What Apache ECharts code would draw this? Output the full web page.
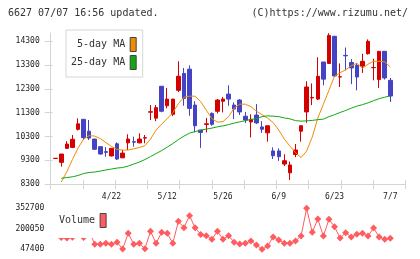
<!DOCTYPE html>
<html>
<head>
<meta charset="utf-8">
<script src="https://cdn.jsdelivr.net/npm/echarts@6/dist/echarts.min.js"></script>
<style>
html,body{margin:0;padding:0;background:#fff}
#chart{width:420px;height:259px}
</style>
</head>
<body>
<div id="chart"></div>
<script>
// daily candles, 5/25-day MA, volume
var dates = ['4/8','4/9','4/10','4/11','4/14','4/15','4/16','4/17','4/18','4/21',
  '4/22','4/23','4/24','4/25','4/28','4/30','5/1','5/2','5/7','5/8',
  '5/12','5/13','5/14','5/15','5/16','5/19','5/20','5/21','5/22','5/23',
  '5/26','5/27','5/28','5/29','5/30','6/2','6/3','6/4','6/5','6/6',
  '6/9','6/10','6/11','6/12','6/13','6/16','6/17','6/18','6/19','6/20',
  '6/23','6/24','6/25','6/26','6/27','6/30','7/1','7/2','7/3','7/4','7/7'];
var opens = [9375,9210,9800,9840,10600,11020,10520,10190,9870,9660,
  9480,9990,9400,10030,10080,10030,10230,11320,11070,12410,
  11590,11230,12240,12950,13130,11620,10570,10800,11270,11360,
  11780,12080,11620,11830,11150,10910,11200,10700,10450,9690,
  9690,9140,8770,9540,10520,11330,11920,11870,13430,13370,
  14510,12800,13710,13410,13290,13260,13780,13190,12690,13880,12660];
var closes = [9380,9560,9980,10180,10830,10250,10230,9760,9560,9630,
  9800,9350,9600,10190,10060,10190,10250,11340,11510,11360,
  11870,11870,12830,11900,11480,10750,10470,10830,10810,11830,
  11870,11870,11450,11330,10990,11020,10870,10600,10750,9490,
  9450,9280,9100,9730,10750,12380,11940,12830,12710,14550,
  12840,12810,13690,13180,12800,13460,14300,13200,13880,12760,12000];
var lows = [9370,9030,9770,9810,10550,10150,10150,9730,9540,9450,
  9460,9310,9390,9730,9870,10010,10010,10990,10940,11320,
  11480,11150,12170,11590,11170,10470,9820,10470,10750,11270,
  11310,11590,11030,11200,10860,10260,10820,10450,10080,9350,
  9270,9060,8470,9430,10080,10870,11620,11830,12450,13350,
  12840,12380,13080,12500,12240,12970,13740,12660,12340,12690,11750];
var highs = [9385,9560,10100,10360,11060,11030,10990,10200,9880,9850,
  9810,10050,9730,10390,10290,10430,10360,11620,11620,12410,
  12340,11870,13460,13180,13290,11780,10570,11080,11310,11870,
  11960,12450,11730,11870,11330,11230,11660,10940,10750,9840,
  9800,9550,9240,9980,10750,12620,12530,13630,13430,14640,
  14530,13370,14040,13550,13390,13780,14380,13570,13880,13880,12760];
var ma5 = [null,8384,8816,9328,9811,10188,10335,10314,10209,10041,
  9882,9756,9727,9727,9781,9832,9915,10188,10566,10818,
  11048,11300,11678,11951,11993,11993,11762,11405,11048,10902,
  10923,11132,11489,11657,11657,11552,11363,11216,11069,10881,
  10566,10188,9894,9622,9412,9685,10272,11069,11657,12244,
  12832,12979,13104,13272,13377,13167,13335,13461,13461,13440,13222];
var ma25 = [null,8539,8573,8602,8657,8741,8783,8804,8845,8887,
  8929,8971,8992,9055,9139,9223,9328,9454,9580,9706,
  9853,9999,10167,10314,10440,10503,10566,10608,10650,10704,
  10746,10797,10860,10914,10964,11015,11048,11132,11166,11153,
  11132,11078,11040,10964,10943,10955,10973,11006,11027,11132,
  11216,11309,11392,11489,11573,11636,11711,11804,11888,11951,12005];
var volumes = [160000,135000,132000,138000,175000,135000,185000,84600,84600,92100,
  84600,99500,49600,166500,84600,92100,51900,181400,92100,174000,
  166500,92100,255900,208200,297600,208200,157600,148700,121900,181400,
  121900,148700,99500,86900,92100,109200,79400,47400,72000,139000,
  116600,92100,92100,109200,146400,352700,174000,273000,146400,270800,
  215700,131500,171000,139000,159100,166500,146400,206000,139000,121900,129300];

var dateLabels = ['4/22','5/12','5/26','6/9','6/23','7/7'];
var priceTicks = [8300,9300,10300,11300,12300,13300,14300];
var volumeTicks = [47400,200050,352700];

var mono = 'DejaVu Sans Mono';
var upColor = '#d40000', downColor = '#4343c4';
var axisGray = '#d4d4d4';
var plain = function (v) { return String(v); };

var candles = [];
for (var i = 0; i < dates.length; i++) {
  candles.push([opens[i], closes[i], lows[i], highs[i]]);
}

var myChart = echarts.init(document.getElementById('chart'));

option = {
  animation: false,
  backgroundColor: '#fff',
  title: [
    {text: '6627 07/07 16:56 updated.', left: 8, top: 8, padding: 0,
     textStyle: {fontFamily: mono, fontSize: 10, fontWeight: 'normal', color: '#333'}},
    {text: '(C)https://www.rizumu.net/', right: 12, top: 8, padding: 0,
     textStyle: {fontFamily: mono, fontSize: 10, fontWeight: 'normal', color: '#333'}}
  ],
  legend: [
    {
      data: ['5-day MA', '25-day MA'],
      orient: 'vertical', align: 'right',
      left: 66, top: 30,
      padding: [7, 6, 7, 5],
      itemWidth: 6, itemHeight: 14, itemGap: 3,
      icon: 'rect',
      itemStyle: {borderColor: '#444', borderWidth: 1},
      backgroundColor: '#fff', borderColor: '#d6d6d6', borderWidth: 1,
      textStyle: {fontFamily: mono, fontSize: 10, color: '#333'},
      selectedMode: false
    },
    {
      data: ['Volume'],
      orient: 'vertical', align: 'right',
      left: 51, top: 207,
      padding: [6, 5, 10, 8],
      itemWidth: 6, itemHeight: 14,
      icon: 'rect',
      itemStyle: {borderColor: '#444', borderWidth: 1},
      backgroundColor: '#fff',
      textStyle: {fontFamily: mono, fontSize: 10, color: '#333'},
      selectedMode: false
    }
  ],
  grid: [
    {left: 50.7, right: 14.7, top: 33, bottom: 75},
    {left: 55.7, right: 29.7, top: 33, bottom: 75},
    {left: 55.7, right: 29.7, top: 208.3, bottom: 9.7}
  ],
  xAxis: [
    {gridIndex: 0, type: 'value', min: 0, max: 11, interval: 1, position: 'bottom',
     axisLine: {show: true, lineStyle: {color: axisGray, width: 1}},
     axisTick: {show: true, length: 5, lineStyle: {color: axisGray}},
     axisLabel: {show: false}, splitLine: {show: false}},
    {gridIndex: 1, type: 'category', data: dates, boundaryGap: false,
     axisLine: {show: false}, axisTick: {show: false}, splitLine: {show: false},
     axisLabel: {
       interval: function (idx, value) { return dateLabels.indexOf(value) >= 0; },
       margin: 9, fontFamily: mono, fontSize: 8, color: '#222'
     }},
    {gridIndex: 2, type: 'category', data: dates, boundaryGap: false, show: false},
    {gridIndex: 0, type: 'value', min: 0, max: 11, interval: 1, position: 'bottom',
     axisLine: {show: false},
     axisTick: {show: true, inside: true, length: 4, lineStyle: {color: axisGray}},
     axisLabel: {show: false}, splitLine: {show: false}}
  ],
  yAxis: [
    {gridIndex: 0, type: 'value', min: 8300, max: 14650, position: 'left',
     axisLine: {show: true, lineStyle: {color: axisGray, width: 1}},
     axisTick: {show: true, length: 6, customValues: priceTicks, lineStyle: {color: axisGray}},
     axisLabel: {customValues: priceTicks, formatter: plain, margin: 11, fontFamily: mono, fontSize: 8, color: '#222'},
     splitLine: {show: false}},
    {gridIndex: 1, type: 'value', min: 8300, max: 14650, show: false, splitLine: {show: false}},
    {gridIndex: 2, type: 'value', min: 47400, max: 352700,
     axisLine: {show: false}, axisTick: {show: false}, splitLine: {show: false},
     axisLabel: {customValues: volumeTicks, formatter: plain, margin: 11.4, fontFamily: mono, fontSize: 8, color: '#222'}},
    {gridIndex: 0, type: 'value', min: 8300, max: 14650, position: 'left',
     axisLine: {show: false}, splitLine: {show: false}, axisLabel: {show: false},
     axisTick: {show: true, inside: true, length: 2, customValues: priceTicks, lineStyle: {color: axisGray}}}
  ],
  series: [
    {
      name: 'price', type: 'candlestick',
      xAxisIndex: 1, yAxisIndex: 1,
      data: candles, barWidth: 4,
      itemStyle: {color: upColor, color0: downColor, borderColor: upColor, borderColor0: downColor, borderWidth: 1}
    },
    {
      name: '5-day MA', type: 'line', xAxisIndex: 1, yAxisIndex: 1,
      data: ma5, symbol: 'none', color: '#f08c00',
      lineStyle: {width: 1, color: '#f08c00'}
    },
    {
      name: '25-day MA', type: 'line', xAxisIndex: 1, yAxisIndex: 1,
      data: ma25, symbol: 'none', color: '#13a813',
      lineStyle: {width: 1, color: '#13a813'}
    },
    {
      name: 'Volume', type: 'line', xAxisIndex: 2, yAxisIndex: 2,
      data: volumes, symbol: 'diamond', symbolSize: 7, showAllSymbol: true, clip: false,
      color: '#ff5c60',
      lineStyle: {width: 1, color: '#ff5c60'},
      itemStyle: {color: '#ff5c60'}
    }
  ]
};

myChart.setOption(option);
</script>
</body>
</html>
